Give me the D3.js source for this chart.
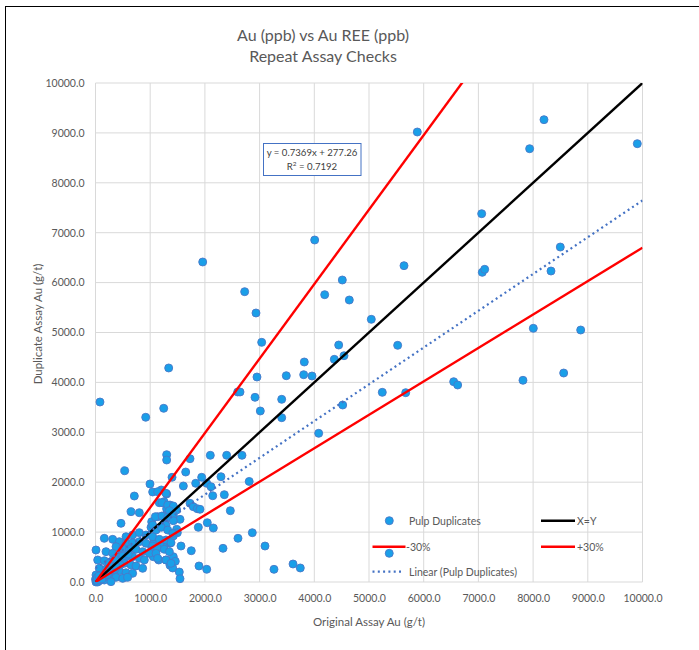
<!DOCTYPE html>
<html>
<head>
<meta charset="utf-8">
<script src="https://cdn.jsdelivr.net/npm/d3@7/dist/d3.min.js"></script>
<style>
  body { margin: 0; background: #fff; }
  text { font-family: Lato, "Open Sans", sans-serif; }
</style>
</head>
<body>
<script>
// Pulp duplicate pairs (original assay, duplicate assay)
var origAu = [
  5883, 8199, 7937, 9905, 7060, 5640, 8497, 7071, 7115, 8327, 8004, 8870, 6548, 6621, 7815, 8559, 5671,
  82, 1960, 4007, 2727, 2934, 4190, 4512, 4640, 5042, 3038, 4446, 5524, 3817, 4366, 4543, 2952, 3488,
  3806, 3958, 1338, 2599, 2642, 2916, 3404, 5243, 4519, 1247, 3013,
  3404, 4080, 2810, 2867, 3099, 3263, 3611, 3744, 5370, 918, 534,
  1301, 1301, 1728, 2099, 2398, 2678, 1649, 1399, 1941, 2294, 1606, 1832, 2033, 2112, 2143, 2355, 2465,
  1045, 1203, 1301, 996, 1166, 1252, 1362, 1484, 1386, 1301, 1252, 1137, 1728, 1788, 1861, 1910, 1545,
  1271, 1289, 1027, 1015, 1118, 1484, 1496, 1422, 1880, 2044, 2154, 2605, 2331, 1563, 1751, 1362, 1240,
  1179, 1070, 1057, 1027, 1009, 1088, 1057, 1155, 1289, 1422, 1459, 1362, 1411, 1892, 2033, 1532, 1545,
  710, 1136, 1289, 1216, 1319, 1423, 1350, 1423, 649, 801, 1094, 1216, 1319, 1423, 466, 1045, 1106, 1203,
  1319, 1411, 558, 679, 801, 923, 1045, 1167, 1289, 1380, 161, 314, 436, 558, 679, 801, 923, 1045, 1136,
  1258, 1350, 375, 497, 618, 740, 862, 984, 1106, 9, 192, 314, 436, 558, 679, 801, 893, 1136, 1289, 1380,
  40, 161, 283, 405, 527, 649, 740, 862, 70, 192, 314, 436, 558, 679, 9, 131, 253, 375, 497, 588, 0, 70,
  161, 283, 9, 40,
  20, 50, 100, 150, 200, 250, 300, 350, 250, 400, 450, 350, 500, 30, 80, 120, 60, 220, 380, 600
];
var dupAu = [
  9018, 9265, 8683, 8784, 7381, 6339, 6713, 6206, 6266, 6232, 5084, 5050, 4014, 3948, 4042, 4188, 3794,
  3607, 6413, 6854, 5818, 5391, 5758, 6052, 5651, 5264, 4803, 4749, 4743, 4409, 4462, 4535, 4108, 4134,
  4154, 4128, 4289, 3808, 3808, 3701, 3661, 3801, 3547, 3481, 3427,
  3293, 2980, 2015, 988, 721, 254, 361, 281, 575, 3301, 2230,
  2551, 2445, 2471, 2539, 2539, 2539, 2204, 2098, 2098, 2110, 1924, 1978, 1978, 1910, 1729, 1750, 1429,
  1804, 1844, 1764, 1964, 1590, 1610, 1543, 1443, 1443, 1463, 1323, 1309, 1577, 1509, 1469, 1457, 1256,
  1242, 1136, 1208, 1096, 1068, 1056, 988, 922, 1096, 1188, 1082, 876, 675, 721, 627, 776, 721,
  762, 842, 762, 696, 575, 627, 507, 441, 441, 507, 415, 335, 281, 321, 255, 200, 66,
  1723, 1810, 1777, 1590, 1543, 1523, 1430, 1343, 1409, 1389, 1309, 1323, 1296, 1229, 1176, 1142, 1042, 1096,
  1042, 975, 908, 942, 989, 942, 908, 855, 842, 788, 875, 855, 808, 775, 788, 808, 775, 721, 675,
  655, 608, 708, 675, 655, 655, 608, 575, 575, 641, 608, 575, 541, 508, 508, 474, 441, 474, 441, 374,
  441, 427, 407, 387, 374, 341, 321, 274, 274, 254, 240, 227, 187, 174, 140, 120, 107, 94, 73, 94, 53, 27,
  40, 7, 0, 0,
  30, 60, 140, 90, 260, 190, 330, 250, 380, 420, 340, 460, 520, 90, 40, 60, 120, 150, 300, 560
];

// Axis ticks and fitted line / bands
var tickValues = [0, 1000, 2000, 3000, 4000, 5000, 6000, 7000, 8000, 9000, 10000];
var trendSlope = 0.7369, trendIntercept = 277.26, rSquared = 0.7192;
var upperFactor = 1 / 0.67, lowerFactor = 0.67;   // -30% / +30% lines

var W = 699, H = 650;
var plot = { left: 95.5, right: 642.5, top: 83, bottom: 582 };
var grey = '#595959';

var svg = d3.select('body').append('svg').attr('width', W).attr('height', H);

// outer chart border (only left/top edges fall inside the picture)
svg.append('rect').attr('x', 5.5).attr('y', 6.5).attr('width', W + 20).attr('height', H + 20)
  .attr('fill', 'none').attr('stroke', '#000').attr('stroke-width', 1);

var x = d3.scaleLinear().domain([0, 10000]).range([plot.left, plot.right]);
var y = d3.scaleLinear().domain([0, 10000]).range([plot.bottom, plot.top]);

// gridlines
svg.append('g').selectAll('line.v').data(tickValues).enter().append('line')
  .attr('x1', function(d){ return x(d) }).attr('x2', function(d){ return x(d) })
  .attr('y1', plot.top).attr('y2', plot.bottom)
  .attr('stroke', '#d9d9d9').attr('stroke-width', 1);
svg.append('g').selectAll('line.h').data(tickValues).enter().append('line')
  .attr('y1', function(d){ return y(d) }).attr('y2', function(d){ return y(d) })
  .attr('x1', plot.left).attr('x2', plot.right)
  .attr('stroke', '#d9d9d9').attr('stroke-width', 1);

// axes (labels only, Excel style)
var fmt = d3.format('.1f');
var xAxis = svg.append('g').attr('transform', 'translate(0,' + plot.bottom + ')')
  .call(d3.axisBottom(x).tickValues(tickValues).tickFormat(fmt).tickSize(0).tickPadding(13));
var yAxis = svg.append('g').attr('transform', 'translate(' + plot.left + ',0)')
  .call(d3.axisLeft(y).tickValues(tickValues).tickFormat(fmt).tickSize(0).tickPadding(11));
[xAxis, yAxis].forEach(function(a){
  a.select('.domain').remove();
  a.selectAll('text').attr('fill', grey).style('font-size', '10.5px').style('font-family', 'Lato, sans-serif');
});

// clip so lines stop at the plot frame
svg.append('clipPath').attr('id', 'plotclip').append('rect')
  .attr('x', plot.left).attr('y', plot.top)
  .attr('width', plot.right - plot.left).attr('height', plot.bottom - plot.top);

var pts = origAu.map(function(v, i){ return { x: v, y: dupAu[i] } });

svg.append('g').selectAll('circle').data(pts).enter().append('circle')
  .attr('cx', function(d){ return x(d.x) })
  .attr('cy', function(d){ return y(d.y) })
  .attr('r', 4)
  .attr('fill', '#1a9fe8')
  .attr('stroke', '#4a78c8')
  .attr('stroke-width', 0.9);

var lineGen = d3.line().x(function(d){ return x(d[0]) }).y(function(d){ return y(d[1]) });
var lines = svg.append('g').attr('clip-path', 'url(#plotclip)');

var xEnd = 10000;
lines.append('path').datum([[0, 0], [xEnd, xEnd]]).attr('d', lineGen)
  .attr('stroke', '#000').attr('stroke-width', 2.4).attr('fill', 'none');
lines.append('path').datum([[0, 0], [xEnd, xEnd * upperFactor]]).attr('d', lineGen)
  .attr('stroke', '#ff0000').attr('stroke-width', 2.4).attr('fill', 'none');
lines.append('path').datum([[0, 0], [xEnd, xEnd * lowerFactor]]).attr('d', lineGen)
  .attr('stroke', '#ff0000').attr('stroke-width', 2.4).attr('fill', 'none');
lines.append('path').datum([[0, trendIntercept], [xEnd, trendSlope * xEnd + trendIntercept]]).attr('d', lineGen)
  .attr('stroke', '#4472c4').attr('stroke-width', 2.2).attr('stroke-dasharray', '2,3.3').attr('fill', 'none');

// title
svg.append('text').attr('x', 323).attr('y', 41).attr('text-anchor', 'middle')
  .attr('fill', grey).style('font-size', '16px').text('Au (ppb) vs Au REE (ppb)');
svg.append('text').attr('x', 323).attr('y', 62).attr('text-anchor', 'middle')
  .attr('fill', grey).style('font-size', '16px').text('Repeat Assay Checks');

// axis titles
svg.append('text').attr('x', 369).attr('y', 626).attr('text-anchor', 'middle')
  .attr('fill', grey).style('font-size', '11.5px').text('Original Assay Au (g/t)');
svg.append('text').attr('transform', 'translate(42,' + 324 + ') rotate(-90)').attr('text-anchor', 'middle')
  .attr('fill', grey).style('font-size', '11.5px').text('Duplicate Assay Au (g/t)');

// equation box
var eq = svg.append('g');
eq.append('rect').attr('x', 263.5).attr('y', 143.5).attr('width', 97.5).attr('height', 32)
  .attr('fill', '#fff').attr('stroke', '#4472c4').attr('stroke-width', 1);
eq.append('text').attr('x', 312).attr('y', 156).attr('text-anchor', 'middle').attr('fill', '#404040')
  .style('font-size', '9.6px').text('y = ' + trendSlope + 'x + ' + trendIntercept);
var r2 = eq.append('text').attr('x', 312).attr('y', 170).attr('text-anchor', 'middle').attr('fill', '#404040')
  .style('font-size', '9.6px');
r2.append('tspan').text('R');
r2.append('tspan').attr('dy', -4).style('font-size', '6.5px').text('2');
r2.append('tspan').attr('dy', 4).text(' = ' + rSquared);

// legend (no background, gridlines show through)
var leg = svg.append('g').style('font-size', '10.5px');
function legText(tx, ty, s){
  leg.append('text').attr('x', tx).attr('y', ty + 3.8).attr('fill', grey).text(s);
}
leg.append('circle').attr('cx', 389.3).attr('cy', 520.7).attr('r', 4)
  .attr('fill', '#1a9fe8').attr('stroke', '#4a78c8').attr('stroke-width', 0.9);
legText(409, 520.7, 'Pulp Duplicates');
leg.append('line').attr('x1', 541).attr('x2', 575).attr('y1', 520.7).attr('y2', 520.7)
  .attr('stroke', '#000').attr('stroke-width', 2.4);
legText(577, 520.7, 'X=Y');
leg.append('line').attr('x1', 372.5).attr('x2', 405.5).attr('y1', 546.7).attr('y2', 546.7)
  .attr('stroke', '#ff0000').attr('stroke-width', 2.4);
legText(406, 546.7, '-30%');
leg.append('line').attr('x1', 541).attr('x2', 575).attr('y1', 546.7).attr('y2', 546.7)
  .attr('stroke', '#ff0000').attr('stroke-width', 2.4);
legText(577, 546.7, '+30%');
leg.append('line').attr('x1', 372.5).attr('x2', 404).attr('y1', 571.7).attr('y2', 571.7)
  .attr('stroke', '#4472c4').attr('stroke-width', 2.2).attr('stroke-dasharray', '2,3.3');
legText(409, 571.7, 'Linear (Pulp Duplicates)');
</script>
</body>
</html>
